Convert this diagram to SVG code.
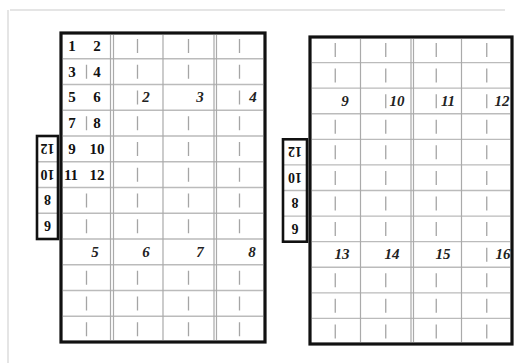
<svg xmlns="http://www.w3.org/2000/svg" width="516" height="363" viewBox="0 0 516 363">
<style>
.frame{fill:none;stroke:#111;stroke-width:3.2}
.tab{fill:none;stroke:#111;stroke-width:2.6}
.grid{fill:none;stroke:#bbb;stroke-width:1.4}
.div{fill:none;stroke:#aaa;stroke-width:1.2}
.tick{fill:none;stroke:#a5a5a5;stroke-width:1.3}
.faint{fill:none;stroke:#ddd;stroke-width:1.5}
.num{font-family:"Liberation Serif","DejaVu Serif",serif;font-weight:bold;font-size:15px;fill:#111;text-anchor:middle}
.lab{font-family:"Liberation Serif","DejaVu Serif",serif;font-weight:bold;font-style:italic;font-size:15px;fill:#222;text-anchor:middle}
.tabnum{font-family:"Liberation Serif","DejaVu Serif",serif;font-weight:bold;font-size:14px;fill:#111;text-anchor:middle}
</style>
<rect width="516" height="363" fill="#fff"/>
<g id="scan-frame">
<path class="faint" d="M10,10 H505 M8,10 V363"/>
</g>
<g id="sheet-left">
<path class="grid" d="M63,58.75 H263 M63,84.5 H263 M63,110.25 H263 M63,136 H263 M63,161.75 H263 M63,187.5 H263 M63,213.25 H263 M63,239 H263 M63,264.75 H263 M63,290.5 H263 M63,316.25 H263"/>
<path class="div" d="M110.5,35 V340 M113.5,35 V340 M163,35 V340 M214,35 V340 M216.5,35 V340"/>
<path class="tick" d="M86.5,64.75 v14 M86.5,116.25 v14 M86.5,193.5 v14 M86.5,219.25 v14 M86.5,270.75 v14 M86.5,296.5 v14 M86.5,322.25 v14
M137.5,39 v14 M188.5,39 v14 M239.5,39 v14
M137.5,64.75 v14 M188.5,64.75 v14 M239.5,64.75 v14
M137.5,90.5 v14 M239.5,90.5 v14
M137.5,116.25 v14 M188.5,116.25 v14 M239.5,116.25 v14
M137.5,142 v14 M188.5,142 v14 M239.5,142 v14
M137.5,167.75 v14 M188.5,167.75 v14 M239.5,167.75 v14
M137.5,193.5 v14 M188.5,193.5 v14 M239.5,193.5 v14
M137.5,219.25 v14 M188.5,219.25 v14 M239.5,219.25 v14
M137.5,270.75 v14 M188.5,270.75 v14 M239.5,270.75 v14
M137.5,296.5 v14 M188.5,296.5 v14 M239.5,296.5 v14
M137.5,322.25 v14 M188.5,322.25 v14 M239.5,322.25 v14"/>
<rect class="frame" x="61" y="33" width="204" height="309"/>
<text class="num" x="72" y="51">1</text><text class="num" x="97" y="51">2</text>
<text class="num" x="72" y="77">3</text><text class="num" x="97" y="77">4</text>
<text class="num" x="72" y="102">5</text><text class="num" x="97" y="102">6</text>
<text class="num" x="72" y="128">7</text><text class="num" x="97" y="128">8</text>
<text class="num" x="72" y="154">9</text><text class="num" x="97" y="154">10</text>
<text class="num" x="71" y="180">11</text><text class="num" x="97" y="180">12</text>
<text class="lab" x="146" y="102">2</text>
<text class="lab" x="200" y="102">3</text>
<text class="lab" x="253" y="102">4</text>
<text class="lab" x="95" y="257">5</text>
<text class="lab" x="146" y="257">6</text>
<text class="lab" x="200" y="257">7</text>
<text class="lab" x="252" y="257">8</text>
</g>
<g id="tab-left">
<path class="grid" d="M38,161.75 H57 M38,187.5 H57 M38,213.25 H57"/>
<rect class="tab" x="37" y="136" width="21" height="103"/>
<text class="tabnum" x="47.5" y="154" transform="rotate(180 47.5 149)">12</text>
<text class="tabnum" x="47.5" y="179.5" transform="rotate(180 47.5 174.5)">10</text>
<text class="tabnum" x="47.5" y="205" transform="rotate(180 47.5 200)">8</text>
<text class="tabnum" x="47.5" y="231" transform="rotate(180 47.5 226)">6</text>
</g>
<g id="sheet-right">
<path class="grid" d="M312,62.58 H510 M312,88.17 H510 M312,113.75 H510 M312,139.33 H510 M312,164.92 H510 M312,190.5 H510 M312,216.08 H510 M312,241.67 H510 M312,267.25 H510 M312,292.83 H510 M312,318.42 H510"/>
<path class="div" d="M360.5,39 V342 M411,39 V342 M413.5,39 V342 M461.5,39 V342"/>
<path class="tick" d="M335.25,43 v14 M385.75,43 v14 M436.25,43 v14 M486.75,43 v14
M335.25,68.6 v14 M385.75,68.6 v14 M436.25,68.6 v14 M486.75,68.6 v14
M385.75,94.2 v14 M436.25,94.2 v14 M486.75,94.2 v14
M335.25,119.8 v14 M385.75,119.8 v14 M436.25,119.8 v14 M486.75,119.8 v14
M335.25,145.3 v14 M385.75,145.3 v14 M436.25,145.3 v14 M486.75,145.3 v14
M335.25,170.9 v14 M385.75,170.9 v14 M436.25,170.9 v14 M486.75,170.9 v14
M335.25,196.5 v14 M385.75,196.5 v14 M436.25,196.5 v14 M486.75,196.5 v14
M335.25,222.1 v14 M385.75,222.1 v14 M436.25,222.1 v14 M486.75,222.1 v14
M486.75,247.7 v14
M335.25,273.3 v14 M385.75,273.3 v14 M436.25,273.3 v14 M486.75,273.3 v14
M335.25,298.8 v14 M385.75,298.8 v14 M436.25,298.8 v14 M486.75,298.8 v14
M335.25,324.4 v14 M385.75,324.4 v14 M436.25,324.4 v14 M486.75,324.4 v14"/>
<rect class="frame" x="310" y="37" width="202" height="307"/>
<text class="lab" x="345" y="106">9</text>
<text class="lab" x="397" y="106">10</text>
<text class="lab" x="448" y="106">11</text>
<text class="lab" x="502" y="106">12</text>
<text class="lab" x="342" y="259">13</text>
<text class="lab" x="392" y="259">14</text>
<text class="lab" x="443" y="259">15</text>
<text class="lab" x="503" y="259">16</text>
</g>
<g id="tab-right">
<path class="grid" d="M284,164.92 H306 M284,190.5 H306 M284,216.08 H306"/>
<rect class="tab" x="283" y="139.3" width="24" height="102.4"/>
<text class="tabnum" x="295" y="157" transform="rotate(180 295 152)">12</text>
<text class="tabnum" x="295" y="182.7" transform="rotate(180 295 177.7)">10</text>
<text class="tabnum" x="295" y="208.3" transform="rotate(180 295 203.3)">8</text>
<text class="tabnum" x="295" y="234" transform="rotate(180 295 229)">6</text>
</g>
</svg>
